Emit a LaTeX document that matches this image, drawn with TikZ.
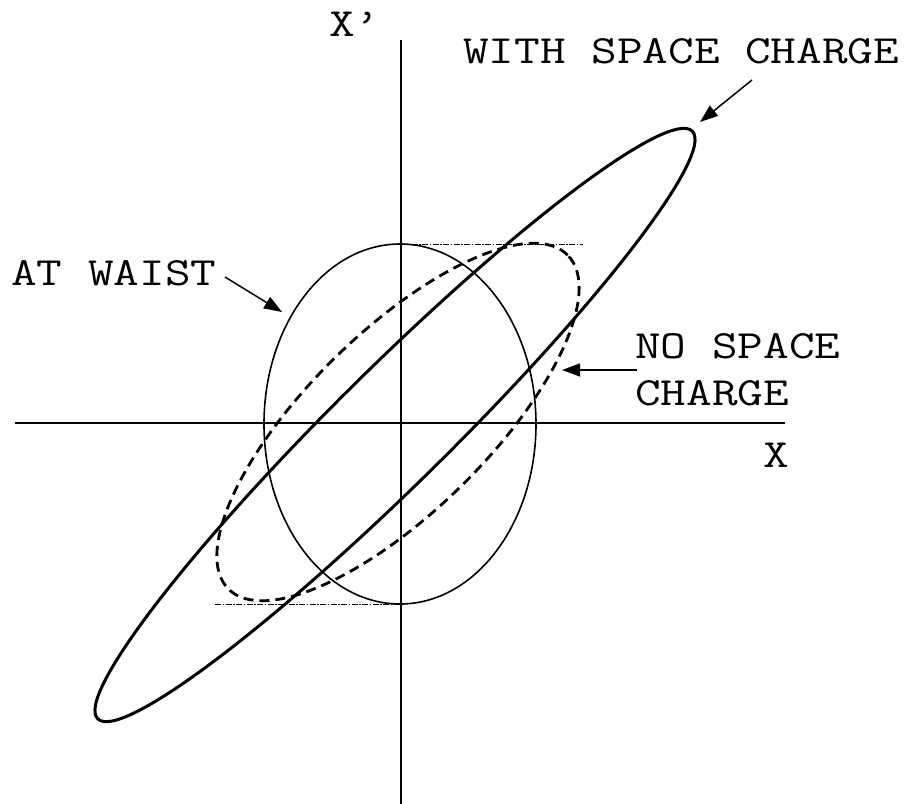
\documentclass[tikz,border=0pt]{standalone}
\usetikzlibrary{arrows.meta}
\begin{document}
\begin{tikzpicture}[x=1pt,y=-1pt,
  lbl/.style={font=\fontsize{40}{48}\selectfont\ttfamily, inner sep=0pt, anchor=base west},
  ptr/.style={line width=1.5pt, -{Triangle[length=18pt,width=13pt]}},
  axis/.style={line width=1.5pt},
  thickell/.style={line width=3pt},
  thinell/.style={line width=1.6pt},
  dashell/.style={line width=2.8pt, dash pattern=on 10pt off 6pt},
  refline/.style={line width=1pt, dash pattern=on 6pt off 1.5pt on 1.5pt off 1.5pt}]
\useasboundingbox (0,0) rectangle (906,804);
% axes
\coordinate (ytop) at (401,40);
\coordinate (ybot) at (401,804);
\coordinate (xl) at (15,423);
\coordinate (xr) at (785,423);
\draw[axis] (ytop) -- (ybot);
\draw[axis] (xl) -- (xr);
% reference lines
\coordinate (t1) at (401,244);
\coordinate (t2) at (583,244);
\coordinate (b1) at (215,604);
\coordinate (b2) at (401,604);
\draw[refline] (t1) -- (t2);
\draw[refline] (b1) -- (b2);
% ellipses
\coordinate (c0) at (400,424);
\draw[thinell] (c0) ellipse [x radius=136pt, y radius=180pt];
\coordinate (c1) at (398,422);
\draw[dashell, rotate around={44.5:(c1)}] (c1) ellipse [x radius=238pt, y radius=90pt];
\coordinate (c2) at (395,425);
\draw[thickell, rotate around={44.66:(c2)}] (c2) ellipse [x radius=418pt, y radius=57.5pt];
% labels
\node[lbl] (xp) at (329,36) {\scalebox{1.245}[1]{X\textquoteright}};
\node[lbl] (wsc) at (463,63) {\scalebox{1.245}[1]{WITH SPACE CHARGE}};
\node[lbl] (aw) at (11,285) {\scalebox{1.245}[1]{AT WAIST}};
\node[lbl] (nsc1) at (635,358) {\scalebox{1.245}[1]{NO SPACE}};
\node[lbl] (nsc2) at (635,405) {\scalebox{1.245}[1]{CHARGE}};
\node[lbl] (xl2) at (763,467) {\scalebox{1.245}[1]{X}};
% arrows
\coordinate (a1s) at (752,80);
\coordinate (a1e) at (700,122);
\coordinate (a2s) at (225,277);
\coordinate (a2e) at (282,312);
\coordinate (a3s) at (637,370);
\coordinate (a3e) at (562,370);
\draw[ptr] (a1s) -- (a1e);
\draw[ptr] (a2s) -- (a2e);
\draw[ptr] (a3s) -- (a3e);
\end{tikzpicture}
\end{document}
